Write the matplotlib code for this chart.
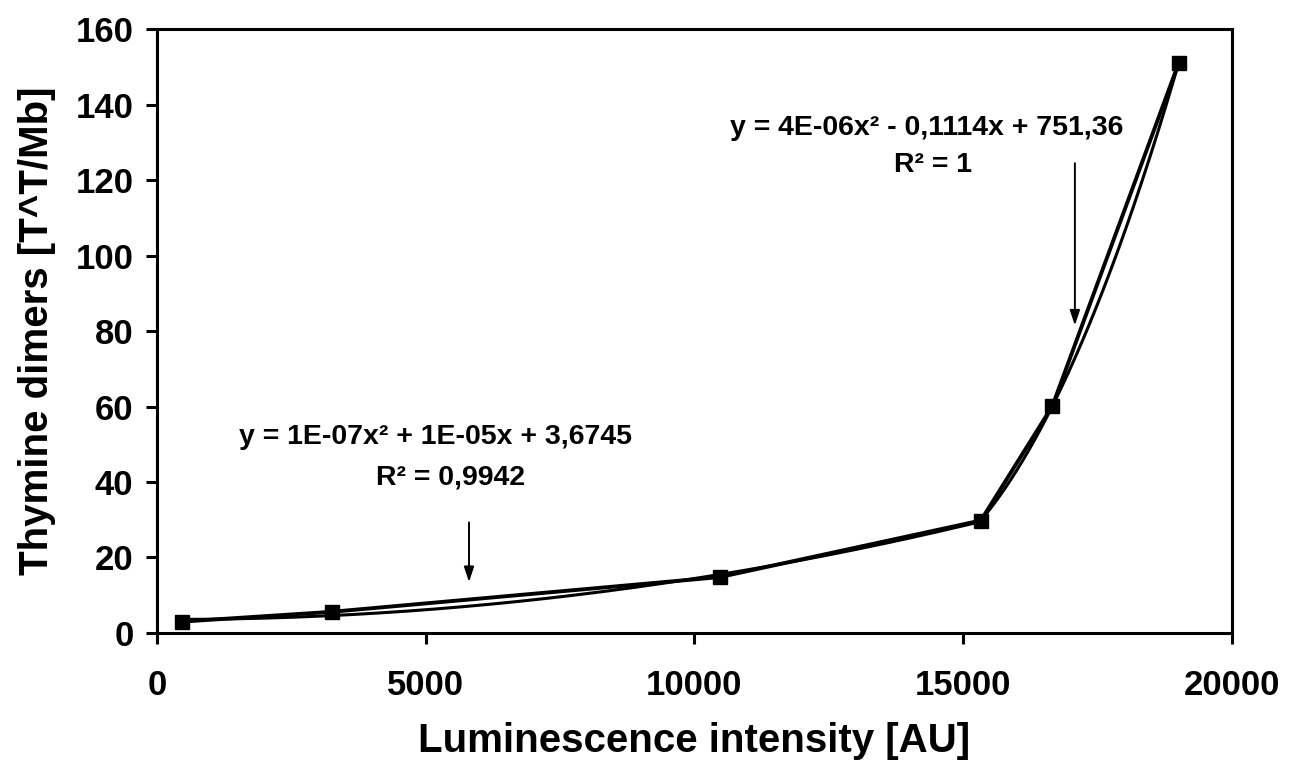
import numpy as np
import matplotlib
matplotlib.use("Agg")
import matplotlib.pyplot as plt

plt.rcParams['font.family'] = ['Liberation Sans', 'DejaVu Sans']
plt.rcParams['font.weight'] = 'bold'

# values
intensity = [460, 3250, 10470, 15330, 16660, 19010]
dimers = [3.0, 5.6, 14.8, 29.8, 60.1, 151.0]

eq_low = "y = 1E-07x² + 1E-05x + 3,6745"
r2_low = "R² = 0,9942"
eq_high = "y = 4E-06x² - 0,1114x + 751,36"
r2_high = "R² = 1"

x = np.array(intensity)
y = np.array(dimers)

fig = plt.figure(figsize=(12.98, 7.70), dpi=100)
ax = fig.add_axes([0.121, 0.178, 0.828, 0.784])

# measured points joined by straight segments
ax.plot(x, y, color='black', lw=2.8, marker='s', markersize=9.5, zorder=3)

# second order trendlines: first four points, last three points
c1 = np.polyfit(x[:4], y[:4], 2)
xs1 = np.linspace(x[0], x[3], 200)
ax.plot(xs1, np.polyval(c1, xs1), color='black', lw=2.2, zorder=2)

c2 = np.polyfit(x[3:], y[3:], 2)
xs2 = np.linspace(x[3], x[5], 200)
ax.plot(xs2, np.polyval(c2, xs2), color='black', lw=2.2, zorder=2)

# equations
fs = 20.5
ax.text(5190, 52, eq_low, ha='center', va='center', fontsize=fs, fontweight='bold')
ax.text(5470, 41.3, r2_low, ha='center', va='center', fontsize=fs, fontweight='bold')
ax.text(14330, 133.8, eq_high, ha='center', va='center', fontsize=fs, fontweight='bold')
ax.text(14440, 124, r2_high, ha='center', va='center', fontsize=fs, fontweight='bold')

arrow = dict(arrowstyle='-|>,head_length=0.9,head_width=0.3', color='black', lw=1.4,
             shrinkA=0, shrinkB=0)
ax.annotate('', xy=(5805, 13.5), xytext=(5805, 29.3), arrowprops=arrow)
ax.annotate('', xy=(17080, 81.5), xytext=(17080, 124.5), arrowprops=arrow)

ax.set_xlim(0, 20000)
ax.set_ylim(0, 160)
ax.set_xticks(np.arange(0, 20001, 5000))
ax.set_yticks(np.arange(0, 161, 20))
ax.tick_params(direction='out', length=8, width=2.2, labelsize=25)
ax.tick_params(axis='x', pad=18)
ax.tick_params(axis='y', pad=9)
for lab in ax.get_xticklabels() + ax.get_yticklabels():
    lab.set_fontweight('bold')
for s in ax.spines.values():
    s.set_linewidth(2.2)

ax.set_xlabel('Luminescence intensity [AU]', fontsize=29, fontweight='bold')
ax.set_ylabel('Thymine dimers [T^T/Mb]', fontsize=29, fontweight='bold')
ax.xaxis.set_label_coords(0.5, -0.147)
ax.yaxis.set_label_coords(-0.094, 0.5)

fig.savefig('out.png', dpi=100)
